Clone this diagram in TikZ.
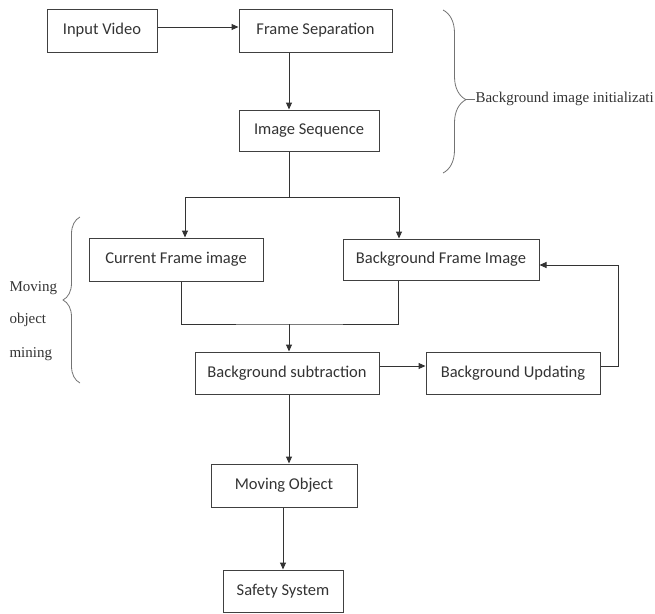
\documentclass[tikz,border=0pt]{standalone}
\usepackage{fontspec}
\setmainfont{Liberation Serif}
\newfontfamily\boxfont{Carlito}
\usetikzlibrary{positioning, arrows.meta, decorations.pathreplacing}

\begin{document}
\begin{tikzpicture}[
    x=1pt, y=-1pt,
    every node/.style={inner sep=0pt},
    box/.style={draw=black!75, line width=1pt, text=black!80, font=\boxfont\fontsize{16.5}{18}\selectfont},
    note/.style={text=black!80, font=\fontsize{15}{17}\selectfont},
    curly/.style={draw=black!55, line width=0.8pt, decorate, decoration={brace, amplitude=#1}},
    >={Triangle[length=7pt, width=6pt]},
    line width=1pt
  ]
  \useasboundingbox (0,0) rectangle (655,613);
  \node[box, minimum width=110pt, minimum height=43pt] (in) at (102,30.5) {Input Video};
  \node[box, minimum width=153pt, minimum height=43pt] (fs) at (315.5,30.5) {Frame Separation};
  \node[box, minimum width=140pt, minimum height=41pt] (seq) at (309,130.5) {Image Sequence};
  \node[box, minimum width=174pt, minimum height=43pt] (cur) at (176,259.5) {Current Frame image};
  \node[box, minimum width=196pt, minimum height=41pt] (bg) at (441,259.5) {Background Frame Image};
  \node[box, minimum width=184pt, minimum height=42pt] (sub) at (287,373) {Background subtraction};
  \node[box, minimum width=174pt, minimum height=42pt] (upd) at (513,373) {Background Updating};
  \node[box, minimum width=146pt, minimum height=43pt] (mo) at (284,485.5) {Moving Object};
  \node[box, minimum width=120pt, minimum height=42pt] (safe) at (283,591) {Safety System};
  % brace notes
  \node[note, anchor=west] (binit) at (475,99) {Background image initializati};
  \node[note, anchor=base west] (mv) at (9,291) {Moving};
  \node[note, anchor=base west] (ob) at (9,323) {object};
  \node[note, anchor=base west] (mi) at (9,357) {mining};
  \coordinate (bitip) at (466,99);
  \draw[curly=23pt, decoration={aspect=0.55}] (443,10) -- (443,173);
  \draw[black!55, line width=0.8pt] (bitip) -- (binit.west);
  \draw[curly=17pt] (80,383) -- (80,217);
  % connectors
  \coordinate (split) at (289,197);
  \coordinate (merge) at (289,324);
  \path[->, black!80]
    ([yshift=3.5pt]in.east) edge ([yshift=3.5pt]fs.west)
    (fs.south -| split) edge (seq.north -| split)
    (sub.south -| split) edge (mo.north -| split)
    (mo.south -| safe.north) edge (safe.north)
    ([yshift=7pt]sub.east) edge ([yshift=7pt]upd.west);
  \draw[black!80] (seq.south -| split) -- (split);
  \draw[->, black!80] (split) -| ([xshift=9pt]cur.north);
  \draw[->, black!80] (split) -| ([xshift=-42pt]bg.north);
  \draw[black!80] ([xshift=5pt]cur.south) |- (merge) -| ([xshift=-43pt]bg.south);
  \draw[->, black!80] (merge) -- (sub.north -| merge);
  \draw[->, black!80] ([yshift=7pt]upd.east) -- ++(18,0) |- ([yshift=-5.5pt]bg.east);
\end{tikzpicture}
\end{document}
